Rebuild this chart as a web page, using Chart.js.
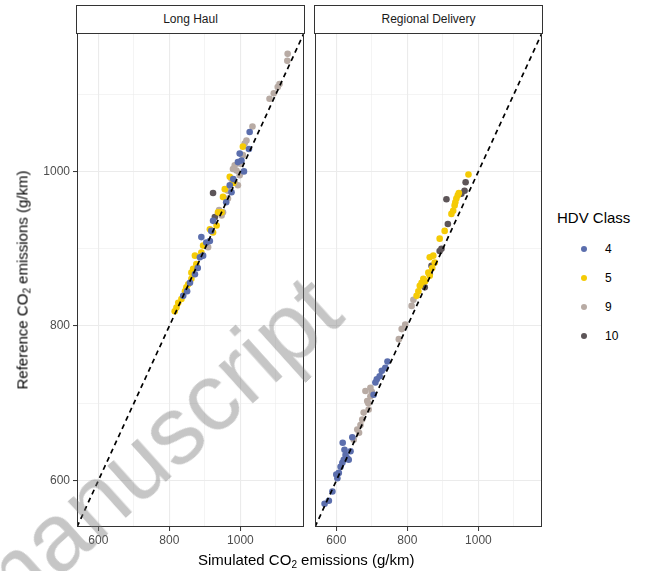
<!DOCTYPE html>
<html>
<head>
<meta charset="utf-8">
<script src="https://cdn.jsdelivr.net/npm/chart.js@4"></script>
<style>
  body { margin: 0; background: #fff; }
  #wrap { position: relative; width: 659px; height: 571px; overflow: hidden; font-family: "Liberation Sans", Arial, sans-serif; }
  canvas { position: absolute; top: 0; }
  .strip { position: absolute; top: 5px; height: 27px; border: 1px solid #333; background: #fff;
           font-size: 12px; color: #1a1a1a; text-align: center; line-height: 27px; box-sizing: content-box; }
  .title { position: absolute; font-size: 15px; color: #000; white-space: nowrap; }
  .title sub { font-size: 10px; vertical-align: -3px; line-height: 0; }
  .leg { position: absolute; font-size: 12px; color: #000; }
  .dot { position: absolute; width: 6px; height: 6px; border-radius: 50%; }
  #wm { position: absolute; font-size: 96px; color: rgba(120,120,120,0.42); white-space: nowrap;
        transform-origin: 0 100%; transform: rotate(-42deg); line-height: 96px; pointer-events: none; }
</style>
</head>
<body>
<div id="wrap">
  <canvas id="longHaul" width="310" height="571" style="left:0"></canvas>
  <canvas id="regional" width="240" height="571" style="left:310px"></canvas>
  <div class="strip" style="left:76px; width:227px">Long Haul</div>
  <div class="strip" style="left:314px; width:227px">Regional Delivery</div>
  <div class="title" style="left:198px; top:551px">Simulated CO<sub>2</sub> emissions (g/km)</div>
  <div class="title" style="left:22px; top:280px; transform: translate(-50%,-50%) rotate(-90deg)">Reference CO<sub>2</sub> emissions (g/km)</div>
  <div id="legend"></div>
  <div id="wm" style="left:8px; top:548px">manuscript</div>
</div>
<script>
// axis setup (same for both panels)
const axisLimits = [540, 1179];
const gridValues = [600, 700, 800, 900, 1000, 1100];
const labelValues = [600, 800, 1000];

const classes = ["4", "5", "9", "10"];
const classColors = ["#5b6ead", "#f5cb05", "#b8aba4", "#5d5558"];

// Long Haul, [simulated, reference]
const longHaul4 = [[1026,1051],[1024,1029],[998,1023],[1003,1014],[993,1012],[970,982],[975,973],[923,936],
  [918,923],[890,915],[904,908],[914,910],[895,891],[886,889],[872,867],[858,856],[839,839],[1010,1000],
  [960,960],[880,875],[850,845],[980,990]];
const longHaul5 = [[1007,1032],[970,993],[956,977],[951,967],[947,947],[937,947],[933,930],[914,925],
  [923,921],[895,904],[890,895],[872,891],[876,880],[867,874],[862,861],[848,850],[844,845],[834,835],
  [825,830],[820,824],[815,819],[853,854],[862,869],[980,985]];
const longHaul9 = [[1133,1152],[1132,1143],[1110,1113],[1105,1109],[1094,1101],[1082,1094],[1034,1058],
  [1017,1040],[1012,1036],[1007,1021],[984,1008],[979,1003],[989,1001],[998,995],[975,990],[984,986],
  [993,982],[965,975],[965,965],[947,943],[951,947],[909,902],[1000,1010],[940,950]];
const longHaul10 = [[923,972],[928,941]];

// Regional Delivery, [simulated, reference]
const regional4 = [[567,570],[579,574],[589,586],[603,603],[607,610],[612,618],[617,623],[621,627],
  [626,633],[631,629],[635,627],[640,638],[618,649],[645,656],[705,711],[710,727],[714,731],[728,742],
  [738,746],[744,754],[600,608],[623,640],[722,735]];
const regional5 = [[826,839],[831,845],[835,852],[840,856],[845,861],[859,869],[863,865],[863,889],
  [873,891],[877,882],[891,913],[905,923],[924,945],[929,949],[933,956],[938,965],[942,969],[972,996],
  [850,858],[870,875],[935,960],[945,972]];
const regional9 = [[649,653],[659,666],[668,672],[673,679],[677,688],[691,692],[687,703],[696,709],
  [682,716],[696,720],[700,715],[776,783],[784,796],[794,802],[812,826],[817,834],[664,662],[690,700]];
const regional10 = [[849,850],[868,878],[891,897],[896,900],[914,932],[910,964],[952,971],[961,975],
  [964,986],[863,867]];

const fontFamily = "'Liberation Sans', Arial, sans-serif";

const panelBorder = {
  id: 'panelBorder',
  afterDraw(chart) {
    const a = chart.chartArea, ctx = chart.ctx;
    ctx.save();
    ctx.strokeStyle = '#333333';
    ctx.lineWidth = 1;
    ctx.strokeRect(a.left + 0.5, a.top + 0.5, a.right - a.left - 1, a.bottom - a.top - 1);
    ctx.restore();
  }
};

function gridWidth(c) {
  return c.tick && labelValues.includes(c.tick.value) ? 1.1 : 0.55;
}

function facetChart(id, groups, showY, padding) {
  const datasets = [{
    type: 'line',
    data: [{x: axisLimits[0], y: axisLimits[0]}, {x: axisLimits[1], y: axisLimits[1]}],
    borderColor: '#000',
    borderWidth: 1.7,
    borderDash: [5, 4],
    pointRadius: 0,
    order: 0
  }];
  groups.forEach((g, i) => {
    datasets.push({
      type: 'scatter',
      label: classes[i],
      data: g.map(p => ({x: p[0], y: p[1]})),
      backgroundColor: classColors[i],
      borderWidth: 0,
      pointRadius: 3.3,
      order: 1
    });
  });
  return new Chart(document.getElementById(id), {
    type: 'scatter',
    data: {datasets: datasets},
    options: {
      responsive: false,
      animation: false,
      events: [],
      layout: {padding: padding},
      plugins: {legend: {display: false}, tooltip: {enabled: false}},
      scales: {
        x: {
          type: 'linear', min: axisLimits[0], max: axisLimits[1],
          afterBuildTicks: s => { s.ticks = gridValues.map(v => ({value: v})); },
          afterFit: s => { s.height = 44; },
          border: {display: false},
          grid: {
            color: '#ebebeb', lineWidth: gridWidth, tickLength: 4, tickWidth: 1,
            tickColor: c => labelValues.includes(c.tick.value) ? '#333' : 'rgba(0,0,0,0)'
          },
          ticks: {
            autoSkip: false, maxRotation: 0, padding: 2, color: '#4d4d4d',
            font: {family: fontFamily, size: 12},
            callback: v => labelValues.includes(v) ? v : ''
          }
        },
        y: {
          type: 'linear', min: axisLimits[0], max: axisLimits[1],
          afterBuildTicks: s => { s.ticks = gridValues.map(v => ({value: v})); },
          afterFit: s => { s.width = showY ? 77 : 0; },
          border: {display: false},
          grid: {
            color: '#ebebeb', lineWidth: gridWidth, drawTicks: showY, tickLength: 4, tickWidth: 1,
            tickColor: c => labelValues.includes(c.tick.value) ? '#333' : 'rgba(0,0,0,0)'
          },
          ticks: {
            display: showY, autoSkip: false, padding: 3, color: '#4d4d4d',
            font: {family: fontFamily, size: 12},
            callback: v => labelValues.includes(v) ? v : ''
          }
        }
      }
    },
    plugins: [panelBorder]
  });
}

facetChart('longHaul', [longHaul4, longHaul5, longHaul9, longHaul10], true, {left: 0, top: 33, right: 6, bottom: 0});
facetChart('regional', [regional4, regional5, regional9, regional10], false, {left: 5, top: 33, right: 8, bottom: 0});

// legend
const legend = document.getElementById('legend');
let html = '<div class="title" style="left:557px; top:209px">HDV Class</div>';
classes.forEach((c, i) => {
  const y = 249 + i * 29;
  html += `<div class="dot" style="left:581px; top:${y - 3}px; background:${classColors[i]}"></div>`;
  html += `<div class="leg" style="left:605px; top:${y - 7}px">${c}</div>`;
});
legend.innerHTML = html;
</script>
</body>
</html>
